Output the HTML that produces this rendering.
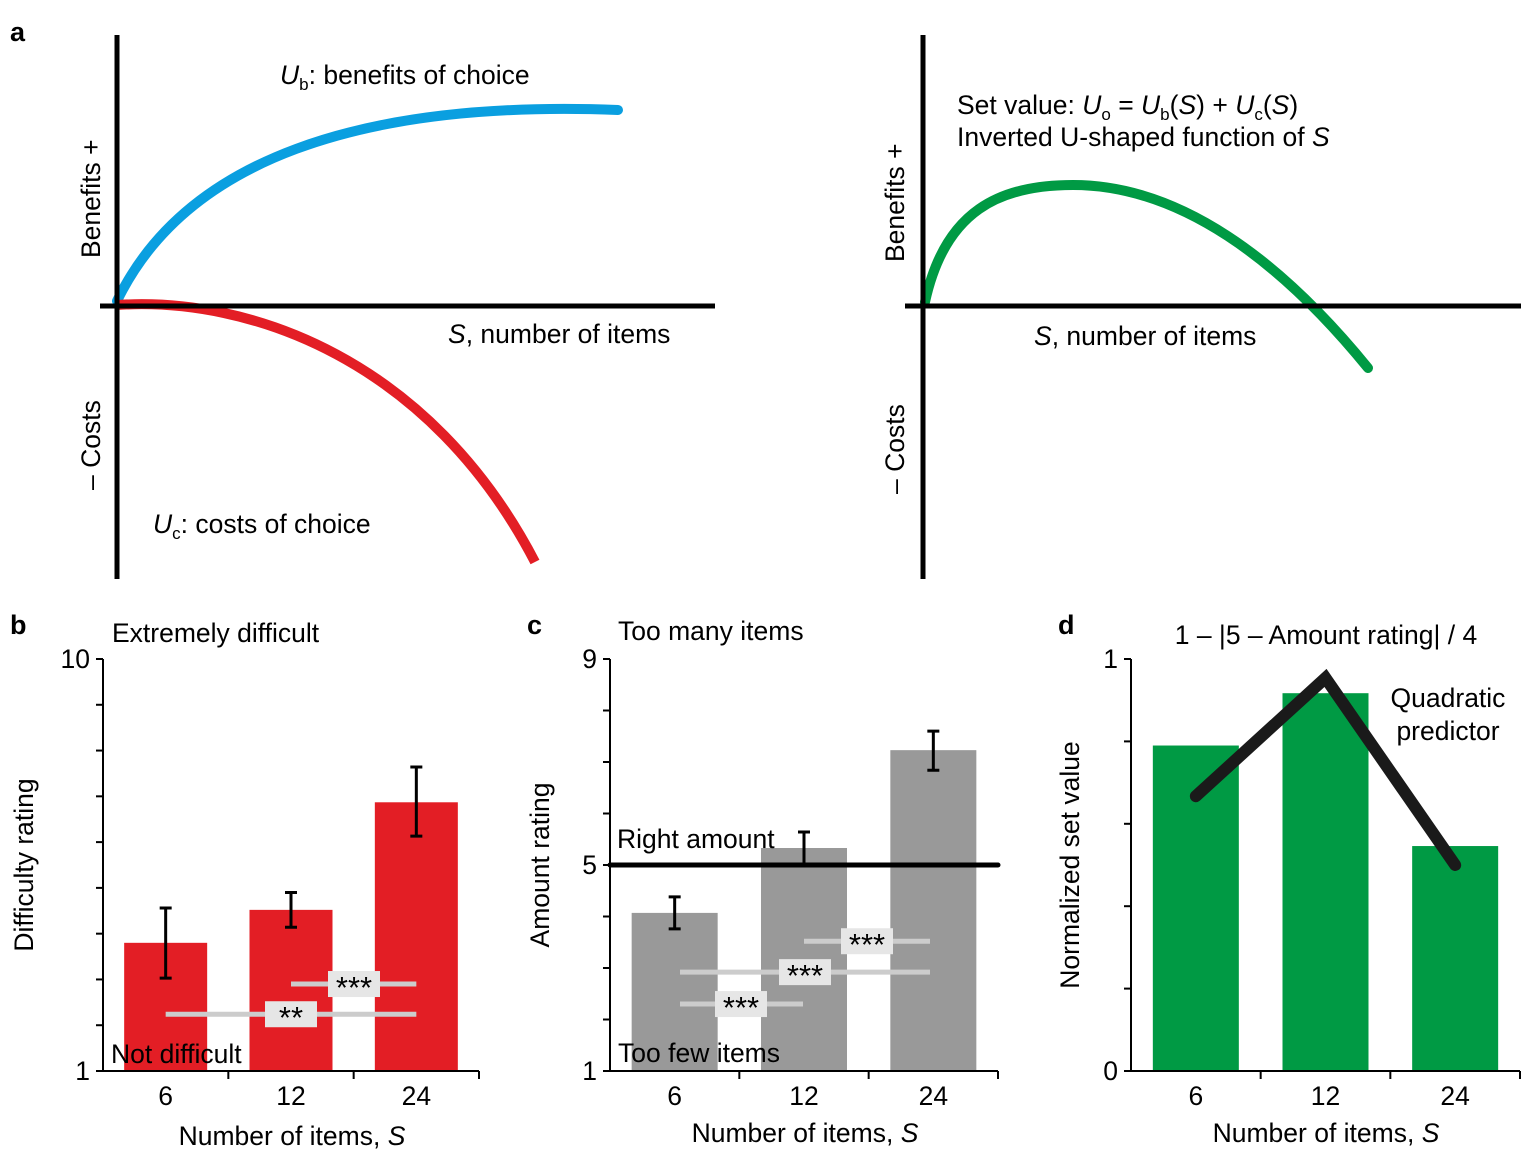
<!DOCTYPE html>
<html><head><meta charset="utf-8"><style>
body{margin:0;background:#fff}
svg{display:block;font-family:"Liberation Sans",Arial,sans-serif}
</style></head><body>
<svg id="fig" width="1525" height="1156" viewBox="0 0 1525 1156" xmlns="http://www.w3.org/2000/svg">
<g>
<text x="10" y="41" font-size="27" font-weight="bold">a</text>
<path d="M117,301 C185,160 360,100 618,110" fill="none" stroke="#0a9fe0" stroke-width="10" stroke-linecap="round"/>
<path d="M117,305 C250,296 430,360 535,562" fill="none" stroke="#e31e25" stroke-width="10"/>
<line x1="117" y1="35" x2="117" y2="579" stroke="#000" stroke-width="5"/>
<line x1="100" y1="306" x2="715" y2="306" stroke="#000" stroke-width="5"/>
<text x="280" y="84" font-size="26.5"><tspan font-style="italic">U</tspan><tspan font-size="17" dy="6">b</tspan><tspan dy="-6">: benefits of choice</tspan></text>
<text x="153" y="533" font-size="26.5"><tspan font-style="italic">U</tspan><tspan font-size="17" dy="6">c</tspan><tspan dy="-6">: costs of choice</tspan></text>
<text x="448" y="343" font-size="26.5"><tspan font-style="italic">S</tspan>, number of items</text>
<text transform="translate(100,258) rotate(-90)" font-size="26.5">Benefits +</text>
<text transform="translate(100,490) rotate(-90)" font-size="26.5">– Costs</text>

<path d="M925,302 C945,210 1000,185 1073,185 C1180,185 1280,260 1368,368" fill="none" stroke="#009a44" stroke-width="10" stroke-linecap="round"/>
<line x1="923" y1="35" x2="923" y2="579" stroke="#000" stroke-width="5"/>
<line x1="905" y1="306" x2="1521" y2="306" stroke="#000" stroke-width="5"/>
<text x="957" y="114" font-size="26.5">Set value: <tspan font-style="italic">U</tspan><tspan font-size="17" dy="6">o</tspan><tspan dy="-6"> = </tspan><tspan font-style="italic">U</tspan><tspan font-size="17" dy="6">b</tspan><tspan dy="-6">(</tspan><tspan font-style="italic">S</tspan>) + <tspan font-style="italic">U</tspan><tspan font-size="17" dy="6">c</tspan><tspan dy="-6">(</tspan><tspan font-style="italic">S</tspan>)</text>
<text x="957" y="146" font-size="26.5">Inverted U-shaped function of <tspan font-style="italic">S</tspan></text>
<text x="1034" y="345" font-size="26.5"><tspan font-style="italic">S</tspan>, number of items</text>
<text transform="translate(904,262) rotate(-90)" font-size="26.5">Benefits +</text>
<text transform="translate(904,494) rotate(-90)" font-size="26.5">– Costs</text>
</g>
<g id="b"></g>
<g id="c"></g>
<g id="d"></g>
</svg>
<script>
const categories = ["6","12","24"];
const difficultyValues = [3.8, 4.52, 6.87];
const difficultyErrLow = [3.03, 4.14, 6.13];
const difficultyErrHigh = [4.56, 4.9, 7.64];
const amountValues = [4.07, 5.33, 7.23];
const amountErrLow = [3.76, 5.02, 6.84];
const amountErrHigh = [4.38, 5.64, 7.6];
const setValues = [0.79, 0.917, 0.546];
const predictorValues = [0.667, 0.954, 0.5];
const bTicks = [1,2,3,4,5,6,7,8,9,10];
const cTicks = [1,2,3,4,5,6,7,8,9];
const dTicks = [0,0.2,0.4,0.6,0.8,1];

const FS = 26.5;
const NS = "http://www.w3.org/2000/svg";
function mk(parent, tag, attrs, text){
  const e = document.createElementNS(NS, tag);
  for (const k in attrs) e.setAttribute(k, attrs[k]);
  if (text !== undefined) e.textContent = text;
  parent.appendChild(e); return e;
}
function setup(g, x0, x1, y0, y1, vmin, vmax){
  const ys = v => y0 - (v - vmin) / (vmax - vmin) * (y0 - y1);
  const step = (x1 - x0) / 3;
  const xs = i => x0 + step * (i + 0.5);
  return {ys, xs, step};
}
function axes(g, x0, x1, y0, y1, ys, ticks, labels, step){
  let e = mk(g,'line',{x1:x0,y1:y0,x2:x1,y2:y0,stroke:'#000','stroke-width':2});
   
  e = mk(g,'line',{x1:x0,y1:y0+1,x2:x0,y2:y1,stroke:'#000','stroke-width':2});
   
  ticks.forEach(t=>{
    const t1 = mk(g,'line',{x1:x0-7,y1:ys(t),x2:x0,y2:ys(t),stroke:'#000','stroke-width':2});
     
  });
  for(let i=1;i<=3;i++){
    const t2 = mk(g,'line',{x1:x0+step*i,y1:y0,x2:x0+step*i,y2:y0+8,stroke:'#000','stroke-width':2});
     
  }
  labels.forEach(l=>{
    const t3 = mk(g,'text',{x:x0-13,y:ys(l)+9,'font-size':FS,'text-anchor':'end'},String(l));
     
  });
}
function xlabels(g, xs, y0){
  categories.forEach((c,i)=>{
    const t = mk(g,'text',{x:xs(i),y:y0+34,'font-size':FS,'text-anchor':'middle'},c);
     
  });
}
function bars(g, xs, ys, vals, vmin, w, color){
  vals.forEach((v,i)=>{
    const r = mk(g,'rect',{x:xs(i)-w/2,y:ys(v),width:w,height:ys(vmin)-ys(v),fill:color});
     
  });
}
function errs(g, xs, ys, lo, hi){
  lo.forEach((l,i)=>{
    const x = xs(i);
    const p = mk(g,'path',{d:`M${x-6},${ys(hi[i])}H${x+6}M${x},${ys(hi[i])}V${ys(l)}M${x-6},${ys(l)}H${x+6}`,stroke:'#000','stroke-width':3,fill:'none'});
     
  });
}
function sig(g, xa, xb, y, bx, label){
  const l = mk(g,'line',{x1:xa,y1:y,x2:xb,y2:y,stroke:'#cccccc','stroke-width':5});
   
  const r = mk(g,'rect',{x:bx-26,y:y-13,width:52,height:26,fill:'#e6e6e6'});
   
  const t = mk(g,'text',{x:bx,y:y+14,'font-size':31,'text-anchor':'middle'},label);
   
}
function txt(g, x, y, s, name, extra){
  const t = mk(g,'text',Object.assign({x:x,y:y,'font-size':FS},extra||{}),s);
   
  return t;
}
function xtitle(g, x, y){
  const t = mk(g,'text',{x:x,y:y,'font-size':FS,'text-anchor':'middle'});
  t.innerHTML = 'Number of items, <tspan font-style="italic">S</tspan>';
   
}
function ytitle(g, x, y, s){
  const t = mk(g,'text',{transform:`translate(${x},${y}) rotate(-90)`,'font-size':FS,'text-anchor':'middle'},s);
   
}

(function(){
  const g = document.getElementById('b');
  const x0=103,x1=479,y0=1071,y1=659;
  const {ys,xs,step} = setup(g,x0,x1,y0,y1,1,10);
  bars(g,xs,ys,difficultyValues,1,83,'#e31e25');
  errs(g,xs,ys,difficultyErrLow,difficultyErrHigh);
  sig(g,xs(1),xs(2),ys(2.9),354,'***');
  sig(g,xs(0),xs(2),ys(2.24),291,'**');
  axes(g,x0,x1,y0,y1,ys,bTicks,[1,10],step);
  xlabels(g,xs,y0);
  txt(g,10,634,'b','panel-label-b',{'font-weight':'bold','font-size':27});
  txt(g,112,642,'Extremely difficult','top-annotation');
  txt(g,111,1063,'Not difficult','bottom-annotation');
  xtitle(g,292,1145);
  ytitle(g,33,865,'Difficulty rating');
})();
(function(){
  const g = document.getElementById('c');
  const x0=610,x1=998,y0=1071,y1=659;
  const {ys,xs,step} = setup(g,x0,x1,y0,y1,1,9);
  bars(g,xs,ys,amountValues,1,86,'#999999');
  errs(g,xs,ys,amountErrLow,amountErrHigh);
  const rl = mk(g,'line',{x1:x0,y1:ys(5),x2:x1,y2:ys(5),stroke:'#000','stroke-width':5,'stroke-linecap':'round'});
   
  sig(g,804,930,ys(3.52),867,'***');
  sig(g,680,930,ys(2.92),805,'***');
  sig(g,680,803,ys(2.3),741,'***');
  axes(g,x0,x1,y0,y1,ys,cTicks,[1,5,9],step);
  xlabels(g,xs,y0);
  txt(g,527,634,'c','panel-label-c',{'font-weight':'bold','font-size':27});
  txt(g,618,640,'Too many items','top-annotation');
  txt(g,618,1062,'Too few items','bottom-annotation');
  txt(g,617,848,'Right amount','right-amount-label');
  xtitle(g,805,1142);
  ytitle(g,549,865,'Amount rating');
})();
(function(){
  const g = document.getElementById('d');
  const x0=1131,x1=1520,y0=1071,y1=659;
  const {ys,xs,step} = setup(g,x0,x1,y0,y1,0,1);
  bars(g,xs,ys,setValues,0,86,'#009a44');
  const pts = predictorValues.map((v,i)=>`${xs(i)},${ys(v)}`).join(' ');
  const pl = mk(g,'polyline',{points:pts,fill:'none',stroke:'#1a1a1a','stroke-width':12,'stroke-linecap':'round','stroke-linejoin':'miter'});
   
  axes(g,x0,x1,y0,y1,ys,dTicks,[0,1],step);
  xlabels(g,xs,y0);
  txt(g,1058,634,'d','panel-label-d',{'font-weight':'bold','font-size':27});
  txt(g,1326,644,'1 – |5 – Amount rating| / 4','panel-d-title',{'text-anchor':'middle'});
  txt(g,1448,707,'Quadratic','predictor-label',{'text-anchor':'middle'});
  txt(g,1448,740,'predictor','predictor-label-line2',{'text-anchor':'middle'});
  xtitle(g,1326,1142);
  ytitle(g,1079,865,'Normalized set value');
})();
</script>
</body></html>
